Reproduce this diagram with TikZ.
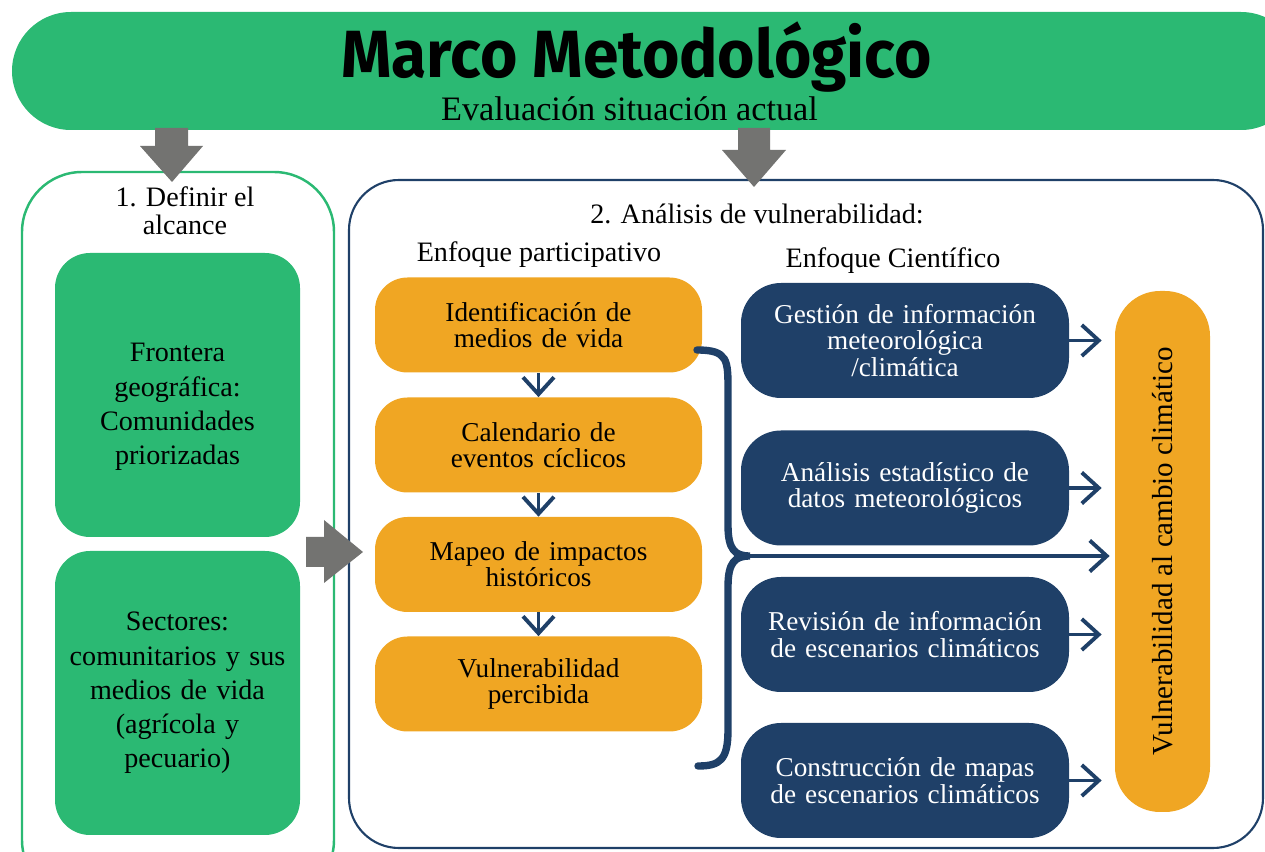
\documentclass[tikz,border=0pt]{standalone}
\usepackage{fontspec}
\usepackage{graphicx}
\setmainfont{Liberation Serif}
\newfontfamily\titlefont{Fira Sans}
\usetikzlibrary{arrows.meta}
\definecolor{verde}{RGB}{43,185,115}
\definecolor{naranja}{RGB}{240,166,35}
\definecolor{azul}{RGB}{31,64,104}
\definecolor{gris}{RGB}{115,115,113}
\begin{document}
\begin{tikzpicture}[
  caja/.style={align=center,inner sep=0pt,font=\fontsize{15.5}{15}\selectfont},
  cajaverde/.style={caja,fill=verde,minimum width=4.9cm,minimum height=5.68cm,text width=4.6cm,rounded corners=0.7cm,font=\fontsize{16}{19.5}\selectfont},
  cajanar/.style={caja,fill=naranja,minimum width=6.54cm,minimum height=1.9cm,text width=6.2cm,rounded corners=0.65cm},
  cajaazul/.style={caja,fill=azul,text=white,minimum width=6.56cm,minimum height=2.3cm,text width=6.2cm,rounded corners=0.8cm},
  flecha/.style={azul,line width=2.2pt,-{Straight Barb[length=0.34cm,width=0.62cm,line width=2.2pt]}},
  rotulo/.style={align=center,font=\fontsize{16}{16}\selectfont}
]
\useasboundingbox (0,0) rectangle (25.3,-17.04);
\clip (0,0) rectangle (25.3,-17.04);
\node[fill=verde,rounded corners=1.18cm,minimum width=25.76cm,minimum height=2.36cm] (banner) at (13.12,-1.42) {};
\node[font=\titlefont\bfseries\fontsize{38}{40}\selectfont] (titulo) at (12.73,-1.14) {\scalebox{0.96}[1]{Marco Metodológico}};
\node[font=\fontsize{19.5}{22}\selectfont] (subtitulo) at (12.59,-2.18) {Evaluación situación actual};
\draw[verde,line width=1.4pt,rounded corners=1.2cm] (0.44,-3.44) rectangle (6.68,-18);
\draw[azul,line width=1.2pt,rounded corners=1cm] (6.98,-3.6) rectangle (25.26,-16.96);
\fill[gris] (3.1,-2.56)--(3.76,-2.56)--(3.76,-2.92)--(4.06,-2.92)--(3.44,-3.64)--(2.8,-2.92)--(3.1,-2.92)--cycle;
\fill[gris] (14.76,-2.56)--(15.4,-2.56)--(15.4,-3.0)--(15.72,-3.0)--(15.08,-3.74)--(14.44,-3.0)--(14.76,-3.0)--cycle;
\fill[gris] (6.12,-10.74)--(6.48,-10.74)--(6.48,-10.4)--(7.26,-11.04)--(6.48,-11.66)--(6.48,-11.34)--(6.12,-11.34)--cycle;
\node[rotulo] (alcance) at (3.7,-4.22) {1. Definir el\\alcance};
\node[cajaverde] (frontera) at (3.55,-7.9) {};
\node[caja,text width=4.6cm,font=\fontsize{16}{19.5}\selectfont] (fronteratexto) at ([yshift=-0.24cm]frontera.center) {Frontera\\geográfica:\\Comunidades\\priorizadas};
\node[cajaverde] (sectores) at (3.55,-13.86) {Sectores:\\comunitarios y sus\\medios de vida\\(agrícola y\\pecuario)};
\node[rotulo] (analisis) at (15.14,-4.28) {2. Análisis de vulnerabilidad:};
\node[rotulo] (participativo) at (10.78,-5.1) {Enfoque participativo};
\node[rotulo] (cientifico) at (17.86,-5.22) {Enfoque Científico};
\node[cajanar] (medios) at (10.77,-6.5) {Identificación de\\medios de vida};
\node[cajanar] (calendario) at (10.77,-8.9) {Calendario de\\eventos cíclicos};
\node[cajanar] (mapeo) at (10.77,-11.29) {Mapeo de impactos\\históricos};
\node[cajanar] (percibida) at (10.77,-13.68) {Vulnerabilidad\\percibida};
\draw[flecha] (medios) -- (calendario);
\draw[flecha] (calendario) -- (mapeo);
\draw[flecha] (mapeo) -- (percibida);
\node[cajaazul] (gestion) at (18.1,-6.81) {Gestión de información\\meteorológica\\/climática};
\node[cajaazul] (estadistico) at (18.1,-9.76) {Análisis estadístico de\\datos meteorológicos};
\node[cajaazul] (revision) at (18.1,-12.69) {Revisión de información\\de escenarios climáticos};
\node[cajaazul] (mapas) at (18.1,-15.61) {Construcción de mapas\\de escenarios climáticos};
\node[caja,fill=naranja,minimum width=10.42cm,minimum height=1.9cm,rounded corners=0.9cm,rotate=90,font=\fontsize{16.5}{16}\selectfont] (vulnerabilidad) at (23.25,-11.03) {Vulnerabilidad al cambio climático};
\foreach \n in {gestion,estadistico,revision,mapas}
  \draw[flecha,shorten >=0.26cm] (\n.east) -- (\n.east -| vulnerabilidad.north);
\coordinate (punta) at (15.0,-11.12);
\draw[azul,line width=4.2pt,line cap=round] (13.94,-7.0) .. controls (14.56,-7.0) and (14.56,-7.2) .. (14.56,-7.8) -- (14.56,-10.5) .. controls (14.56,-11.0) and (14.7,-11.12) .. (punta) .. controls (14.7,-11.12) and (14.56,-11.24) .. (14.56,-11.74) -- (14.56,-14.6) .. controls (14.56,-15.2) and (14.4,-15.32) .. (13.96,-15.32);
\draw[flecha,shorten >=0.1cm] (punta) -- (punta -| vulnerabilidad.north);
\end{tikzpicture}
\end{document}
